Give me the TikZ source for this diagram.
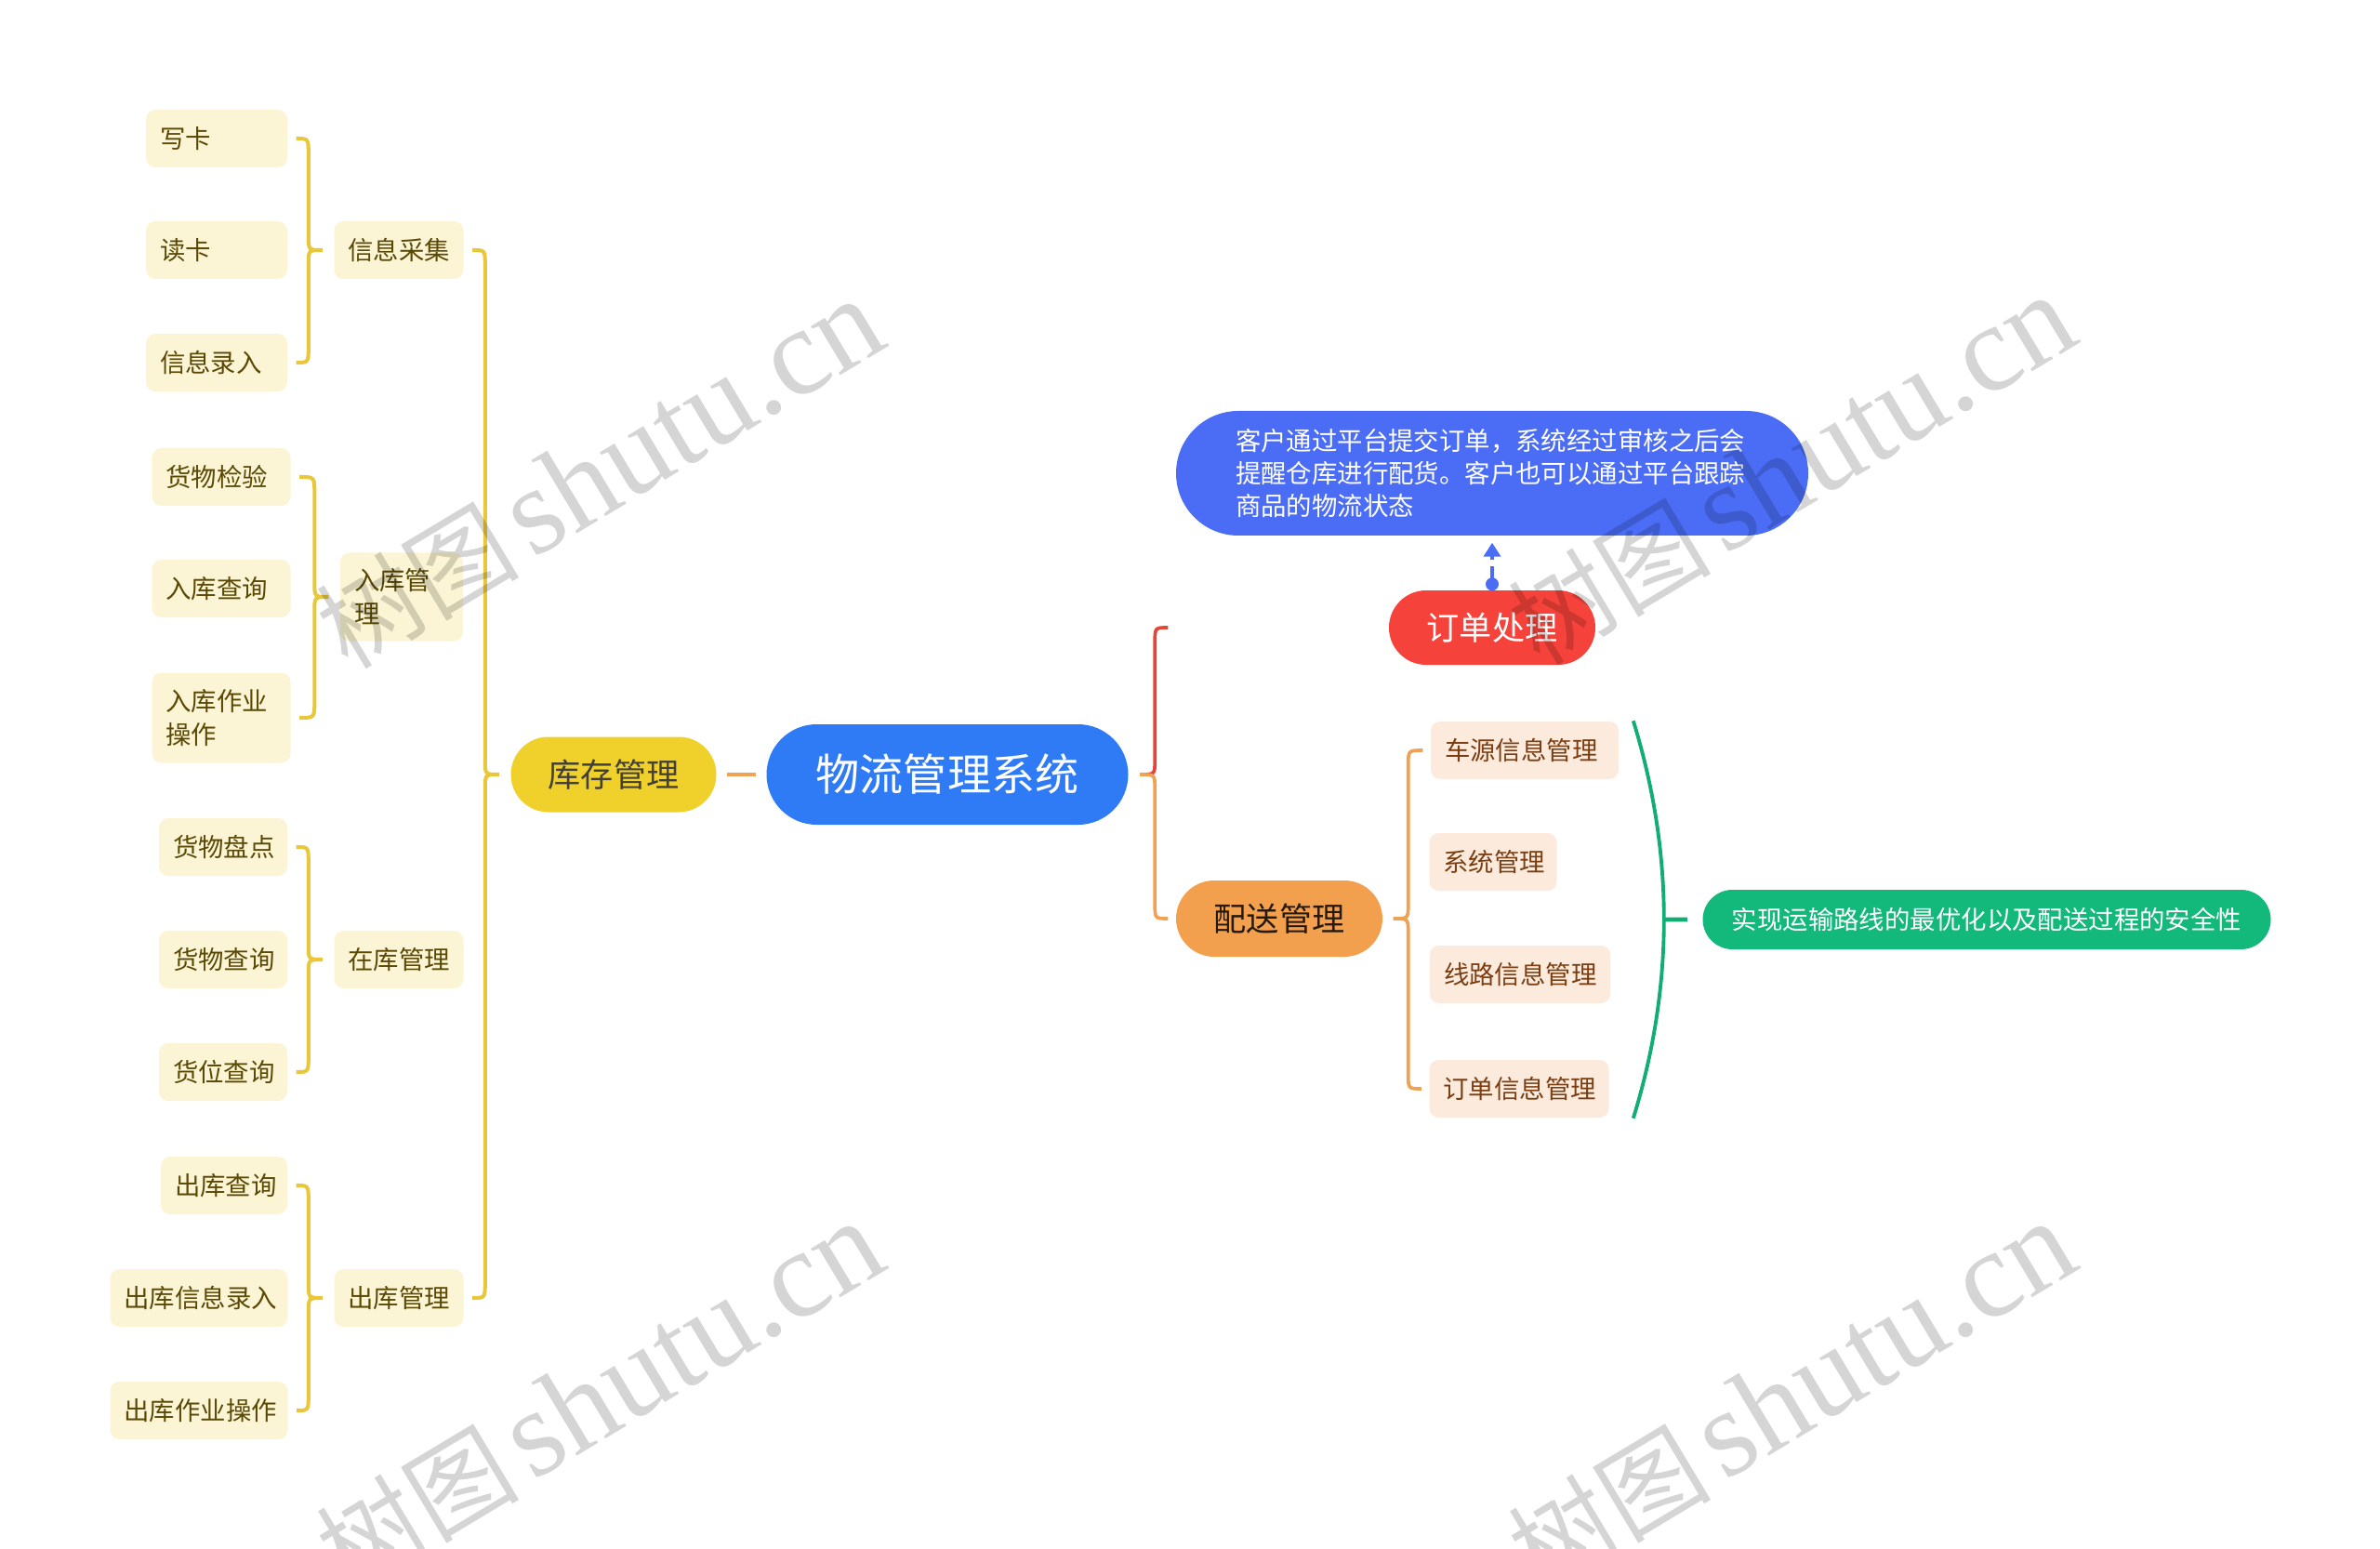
\documentclass[tikz,border=0pt]{standalone}
\usepackage{fontspec}
\setmainfont{Noto Sans CJK SC}
\newfontfamily\cjk{Noto Sans CJK SC}
\newfontfamily\wmfont{Liberation Serif}
\usetikzlibrary{calc,arrows.meta}
\definecolor{leafyfill}{HTML}{FCF5D5}
\definecolor{leafytext}{HTML}{5A4905}
\definecolor{leafofill}{HTML}{FCEBDC}
\definecolor{leafotext}{HTML}{7A3E12}
\definecolor{yline}{HTML}{E8C73A}
\definecolor{oline}{HTML}{EFA253}
\definecolor{rline}{HTML}{E0483A}
\definecolor{gline}{HTML}{12AD74}
\definecolor{rootblue}{HTML}{2F7BF6}
\definecolor{kcyellow}{HTML}{F0D12B}
\definecolor{ddred}{HTML}{F5423A}
\definecolor{psorange}{HTML}{F3A04E}
\definecolor{cblue}{HTML}{4B6DF6}
\definecolor{sgreen}{HTML}{13B87B}
\tikzset{
  leafY/.style={rectangle, rounded corners=0.1cm, fill=leafyfill, text=leafytext,
    font=\fontsize{7.8pt}{10.2pt}\selectfont, align=left, inner xsep=0.15cm, inner ysep=0pt, minimum height=0.62cm},
  leafO/.style={leafY, fill=leafofill, text=leafotext},
  pill/.style={rectangle, inner sep=0pt, align=center},
  ylinestyle/.style={draw=yline, line width=1.15pt},
  olinestyle/.style={draw=oline, line width=1.05pt},
  rlinestyle/.style={draw=rline, line width=1.05pt},
  glinestyle/.style={draw=gline, line width=1.1pt},
  wm/.style={text=black, opacity=0.165, rotate=31, inner sep=0pt}
}
\newcommand{\wmtext}{{\cjk\fontsize{31pt}{34pt}\selectfont 树图}\hspace{4pt}{\wmfont\fontsize{38pt}{40pt}\selectfont shutu.cn}}
% brace: children on the left, parent on the right
\newcommand{\braceToRight}[4]{%
\draw[#4] let \p1=($(#2.east)+(0.09,0)$), \p2=($(#1.west)+(-0.12,0)$), \p3=($(#3.east)+(0.09,0)$) in
 (\p1) .. controls ({\x2-0.15cm},\y1) .. ({\x2-0.15cm},{\y1-0.17cm})
 -- ({\x2-0.15cm},{\y2+0.15cm}) .. controls ({\x2-0.15cm},\y2) .. (\p2)
 .. controls ({\x2-0.15cm},\y2) .. ({\x2-0.15cm},{\y2-0.15cm})
 -- ({\x2-0.15cm},{\y3+0.17cm}) .. controls ({\x2-0.15cm},\y3) .. (\p3);}
% brace: parent on the left, children on the right
\newcommand{\braceToLeft}[4]{%
\draw[#4] let \p1=($(#2.west)+(-0.08,0)$), \p2=($(#1.east)+(0.11,0)$), \p3=($(#3.west)+(-0.08,0)$) in
 (\p1) .. controls ({\x2+0.16cm},\y1) .. ({\x2+0.16cm},{\y1-0.17cm})
 -- ({\x2+0.16cm},{\y2+0.15cm}) .. controls ({\x2+0.16cm},\y2) .. (\p2)
 .. controls ({\x2+0.16cm},\y2) .. ({\x2+0.16cm},{\y2-0.15cm})
 -- ({\x2+0.16cm},{\y3+0.17cm}) .. controls ({\x2+0.16cm},\y3) .. (\p3);}
\begin{document}
\begin{tikzpicture}
\useasboundingbox (0,0) rectangle (25.6,-16.66);
\fill[white] (0,0) rectangle (25.6,-16.66);

% ---- left leaves
\node[leafY, text width=1.22cm] (xk) at (2.33,-1.49) {写卡};
\node[leafY, text width=1.22cm] (dk) at (2.33,-2.69) {读卡};
\node[leafY, text width=1.22cm] (xxlr) at (2.33,-3.90) {信息录入};
\node[leafY, text width=1.09cm] (xxcj) at (4.29,-2.69) {信息采集};

\node[leafY, text width=1.19cm] (hwjy) at (2.38,-5.13) {货物检验};
\node[leafY, text width=1.19cm] (rkcx) at (2.38,-6.33) {入库查询};
\node[leafY, text width=1.19cm, minimum height=0.97cm] (rkzy) at (2.38,-7.72) {入库作业\\操作};
\node[leafY, text width=1.02cm, minimum height=0.95cm] (rkgl) at (4.32,-6.42) {入库管\\理};

\node[leafY, text width=1.08cm] (hwpd) at (2.40,-9.11) {货物盘点};
\node[leafY, text width=1.08cm] (hwcx) at (2.40,-10.32) {货物查询};
\node[leafY, text width=1.08cm] (hwwcx) at (2.40,-11.53) {货位查询};
\node[leafY, text width=1.09cm] (zkgl) at (4.29,-10.32) {在库管理};

\node[leafY, text width=1.06cm] (ckcx) at (2.41,-12.75) {出库查询};
\node[leafY, text width=1.61cm] (ckxx) at (2.14,-13.96) {出库信息录入};
\node[leafY, text width=1.61cm] (ckzy) at (2.14,-15.17) {出库作业操作};
\node[leafY, text width=1.09cm] (ckgl) at (4.29,-13.96) {出库管理};

% ---- main nodes
\node[pill, fill=rootblue, text=white, minimum width=3.89cm, minimum height=1.08cm, rounded corners=0.54cm,
  font=\fontsize{13.4pt}{16pt}\selectfont] (root) at (10.19,-8.33) {物流管理系统};
\node[pill, fill=kcyellow, text=black!85!yellow, minimum width=2.21cm, minimum height=0.81cm, rounded corners=0.405cm,
  font=\fontsize{10pt}{12pt}\selectfont] (kcgl) at (6.60,-8.33) {库存管理};
\node[pill, fill=ddred, text=white, minimum width=2.22cm, minimum height=0.80cm, rounded corners=0.40cm,
  font=\fontsize{10pt}{12pt}\selectfont] (ddcl) at (16.05,-6.75) {订单处理};
\node[pill, fill=cblue, text=white, minimum width=6.80cm, minimum height=1.34cm, rounded corners=0.67cm,
  text width=5.52cm, align=left, font=\fontsize{7.8pt}{9.9pt}\selectfont] (callout) at (16.05,-5.09)
  {客户通过平台提交订单，系统经过审核之后会\\提醒仓库进行配货。客户也可以通过平台跟踪\\商品的物流状态};
\node[pill, fill=psorange, text=black!80!brown, minimum width=2.22cm, minimum height=0.82cm, rounded corners=0.41cm,
  font=\fontsize{10pt}{12pt}\selectfont] (psgl) at (13.76,-9.88) {配送管理};

% ---- right leaves
\node[leafO, text width=1.72cm] (cygl) at (16.40,-8.07) {车源信息管理};
\node[leafO, text width=1.07cm] (xtgl) at (16.06,-9.27) {系统管理};
\node[leafO, text width=1.64cm] (xlxx) at (16.35,-10.48) {线路信息管理};
\node[leafO, text width=1.63cm] (ddxx) at (16.34,-11.71) {订单信息管理};

\node[pill, fill=sgreen, text=white, minimum width=6.11cm, minimum height=0.64cm, rounded corners=0.32cm,
  font=\fontsize{7.8pt}{9.9pt}\selectfont] (sum) at (21.37,-9.89) {实现运输路线的最优化以及配送过程的安全性};

% ---- connectors
\braceToRight{xxcj}{xk}{xxlr}{ylinestyle}
\braceToRight{rkgl}{hwjy}{rkzy}{ylinestyle}
\braceToRight{zkgl}{hwpd}{hwwcx}{ylinestyle}
\braceToRight{ckgl}{ckcx}{ckzy}{ylinestyle}
\braceToRight{kcgl}{xxcj}{ckgl}{ylinestyle}

\draw[olinestyle, line width=1.2pt] ($(kcgl.east)+(0.11,0)$) -- ($(root.west)+(-0.11,0)$);

% root -> 订单处理 (red) and 配送管理 (orange)
\draw[rlinestyle] let \p2=($(root.east)+(0.12,0)$), \p1=($(psgl.west)+(-0.08,0)$), \p3=(ddcl.west) in
 (\p2) .. controls ({\x2+0.16cm},\y2) .. ({\x2+0.16cm},{\y2+0.15cm})
 -- ({\x2+0.16cm},{\y3-0.17cm}) .. controls ({\x2+0.16cm},\y3) .. (\x1,\y3);
\draw[olinestyle] let \p2=($(root.east)+(0.12,0)$), \p1=($(psgl.west)+(-0.08,0)$) in
 (\p2) .. controls ({\x2+0.16cm},\y2) .. ({\x2+0.16cm},{\y2-0.15cm})
 -- ({\x2+0.16cm},{\y1+0.17cm}) .. controls ({\x2+0.16cm},\y1) .. (\p1);

\braceToLeft{psgl}{cygl}{ddxx}{olinestyle}

% summary bracket
\draw[glinestyle] let \p1=(cygl.north), \p2=(ddxx.south), \p3=(sum.west) in
 ({\x3-0.74cm},\y1) .. controls ({\x3-0.30cm},{\y1+(\y2-\y1)/3}) and ({\x3-0.30cm},{\y1+2*(\y2-\y1)/3}) .. ({\x3-0.74cm},\y2);
\draw[glinestyle, line width=1.3pt] let \p1=(cygl.north), \p2=(ddxx.south), \p3=(sum.west) in
 ({\x3-0.42cm},{(\y1+\y2)/2}) -- ($(sum.west)+(-0.16,0)$);

% dashed arrow to callout
\coordinate (dstart) at ($(ddcl.north)+(0,0.06)$);
\fill[cblue] (dstart) circle (0.07);
\draw[cblue, line width=1.15pt, dash pattern=on 0.19cm off 0.07cm, -{Triangle[length=0.15cm,width=0.18cm]}]
  (dstart) -- ($(callout.south)+(0,-0.07)$);

% ---- watermarks
\node[wm] at (6.45,-5.10) {\wmtext};
\node[wm] at (19.27,-5.06) {\wmtext};
\node[wm] at (6.45,-15.02) {\wmtext};
\node[wm] at (19.27,-15.02) {\wmtext};
\end{tikzpicture}
\end{document}
